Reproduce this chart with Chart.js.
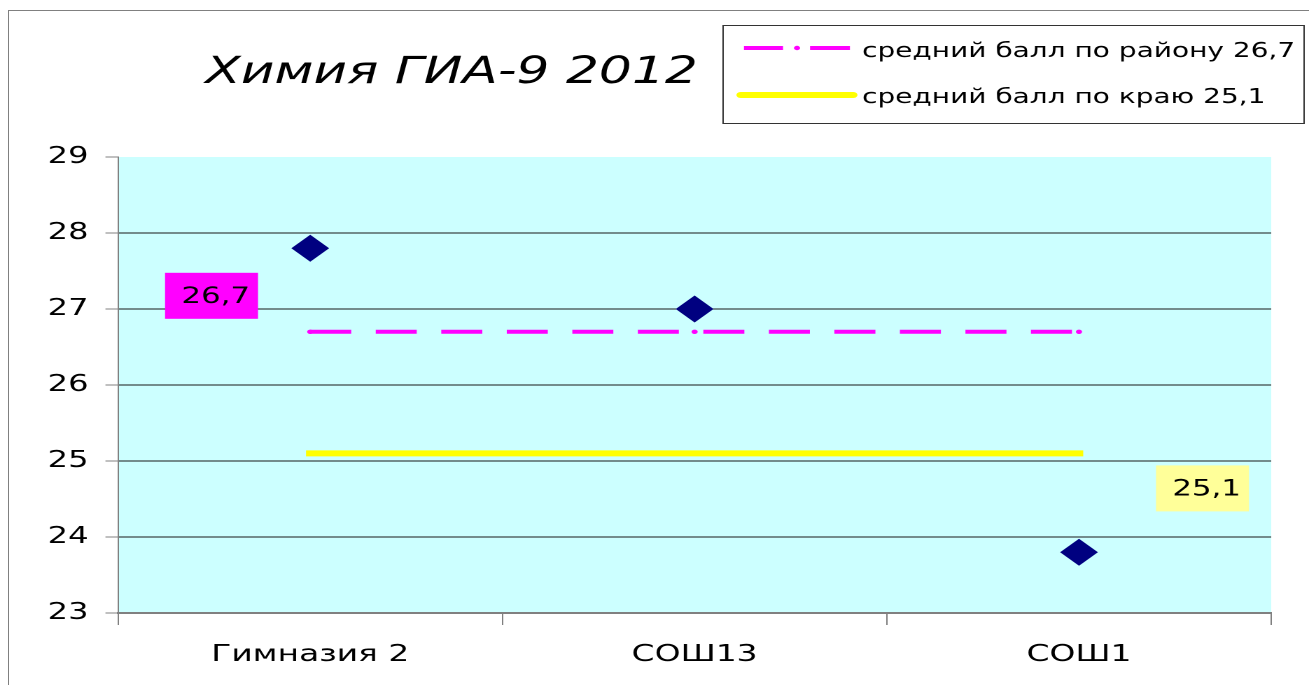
<!DOCTYPE html>
<html>
<head>
<meta charset="utf-8">
<script src="https://cdn.jsdelivr.net/npm/chart.js@4"></script>
<style>
  html, body { margin: 0; padding: 0; background: #fff; overflow: hidden; }
  body { width: 1309px; height: 685px; position: relative; }
  #frame { position: absolute; left: 8px; top: 10px; width: 1400px; height: 700px;
           border-left: 1px solid #808080; border-top: 1px solid #808080; }
  #wrap { position: absolute; left: 0; top: 0; width: 935px; height: 685px;
          transform: scaleX(1.4); transform-origin: 0 0; }
</style>
</head>
<body>
<div id="frame"></div>
<div id="wrap"><canvas id="c" width="935" height="685"></canvas></div>
<script>
// ---- data ----
const categories = ['Гимназия 2', 'СОШ13', 'СОШ1'];
const schoolScores = [27.8, 27.0, 23.8];
const districtAvg = [26.7, 26.7, 26.7];
const regionAvg = [25.1, 25.1, 25.1];
const yTickValues = [23, 24, 25, 26, 27, 28, 29];
const titleText = 'Химия ГИА-9 2012';
const legendLabels = ['средний балл по району 26,7', 'средний балл по краю 25,1'];
const avgLabels = ['26,7', '25,1'];

const FONT = "'DejaVu Sans', 'Verdana', sans-serif";
const MAGENTA = '#FF00FF';
const YELLOW = '#FFFF00';

const decorPlugin = {
  id: 'decor',
  beforeDraw(chart) {
    const { ctx, chartArea: a } = chart;
    ctx.save();
    ctx.fillStyle = '#CCFFFF';
    ctx.fillRect(a.left, a.top, a.right - a.left, a.bottom - a.top);
    ctx.restore();
  },
  afterDraw(chart) {
    const { ctx } = chart;
    const xs = chart.scales.x, ys = chart.scales.y;
    ctx.save();
    // title
    ctx.fillStyle = '#000';
    ctx.font = 'italic 37px ' + FONT;
    ctx.textAlign = 'center';
    ctx.textBaseline = 'alphabetic';
    ctx.fillText(titleText, 322.5, 83);

    // legend box
    ctx.strokeStyle = '#333';
    ctx.lineWidth = 1;
    ctx.strokeRect(516.5, 25.5, 415, 98);
    // row 1 sample: dash-dot magenta
    ctx.strokeStyle = MAGENTA;
    ctx.lineWidth = 4;
    ctx.beginPath();
    ctx.moveTo(531.4, 48); ctx.lineTo(559.3, 48);
    ctx.moveTo(578.6, 48); ctx.lineTo(607.1, 48);
    ctx.stroke();
    ctx.fillStyle = MAGENTA;
    ctx.beginPath(); ctx.arc(569.3, 48, 2.2, 0, Math.PI * 2); ctx.fill();
    // row 2 sample: yellow
    ctx.strokeStyle = YELLOW;
    ctx.lineWidth = 6;
    ctx.lineCap = 'round';
    ctx.beginPath(); ctx.moveTo(529, 95); ctx.lineTo(609.5, 95); ctx.stroke();
    ctx.lineCap = 'butt';
    ctx.fillStyle = '#000';
    ctx.font = '20px ' + FONT;
    ctx.textAlign = 'left';
    ctx.fillText(legendLabels[0], 615.7, 57);
    ctx.fillText(legendLabels[1], 615.7, 103);

    // value labels
    const drawLabel = (txt, bg, px, py) => {
      const w = 66.4, h = 46;
      ctx.fillStyle = bg;
      ctx.fillRect(px, py, w, h);
      ctx.fillStyle = '#000';
      ctx.font = '22px ' + FONT;
      ctx.textAlign = 'center';
      ctx.fillText(txt, px + w / 2 + 3, py + 30);
    };
    drawLabel(avgLabels[0], MAGENTA, xs.getPixelForValue(0) - 103.7, ys.getPixelForValue(districtAvg[0]) - 59);
    drawLabel(avgLabels[1], '#FFFF99', xs.getPixelForValue(2) + 55, ys.getPixelForValue(regionAvg[2]) + 12);
    ctx.restore();
  }
};

new Chart(document.getElementById('c'), {
  type: 'line',
  data: {
    labels: categories,
    datasets: [
      {
        label: 'scores',
        data: schoolScores,
        showLine: false,
        pointStyle: 'rectRot',
        pointRadius: 13.5,
        pointHoverRadius: 13.5,
        pointBackgroundColor: '#000080',
        pointBorderWidth: 0,
        borderWidth: 0
      },
      {
        label: legendLabels[0],
        data: districtAvg,
        borderColor: MAGENTA,
        borderWidth: 4,
        borderDash: [29.3, 17.5],
        pointRadius: 2.2,
        pointBackgroundColor: MAGENTA,
        pointBorderWidth: 0,
        tension: 0
      },
      {
        label: legendLabels[1],
        data: regionAvg,
        borderColor: YELLOW,
        borderWidth: 6,
        borderCapStyle: 'square',
        pointRadius: 0,
        tension: 0
      }
    ]
  },
  options: {
    responsive: false,
    animation: false,
    devicePixelRatio: 2,
    layout: { padding: { top: 157, right: 27, left: 0, bottom: 0 } },
    plugins: { legend: { display: false }, title: { display: false }, tooltip: { enabled: false } },
    scales: {
      x: {
        type: 'category',
        offset: true,
        grid: { offset: true, drawOnChartArea: false, drawTicks: true, tickLength: 12, tickColor: '#808080', tickWidth: 1 },
        border: { color: '#808080', width: 2 },
        ticks: { color: '#000', font: { family: FONT, size: 23.5 }, padding: 16, maxRotation: 0 },
        afterFit(s) { s.height = 72; }
      },
      y: {
        min: 23, max: 29,
        afterBuildTicks(s) { s.ticks = yTickValues.map(v => ({ value: v })); },
        grid: {
          color: (c) => (c.tick && (c.tick.value === 29 || c.tick.value === 23)) ? 'rgba(0,0,0,0)' : '#1a1a1a',
          lineWidth: 1,
          tickColor: '#808080',
          tickLength: 9
        },
        border: { color: '#808080', width: 1 },
        ticks: { color: '#000', font: { family: FONT, size: 23 }, padding: 12, stepSize: 1 },
        afterFit(s) { s.width = 84.3; }
      }
    }
  },
  plugins: [decorPlugin]
});
</script>
</body>
</html>
